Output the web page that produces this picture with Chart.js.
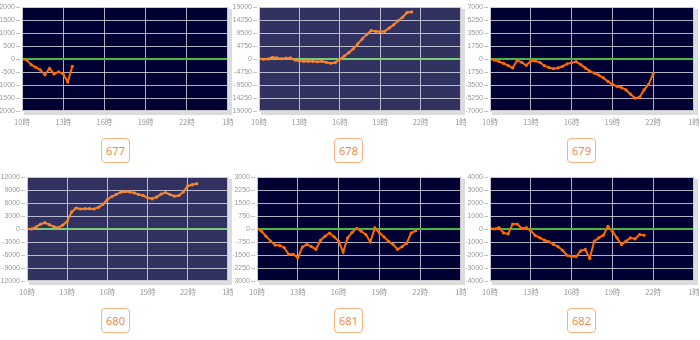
<!DOCTYPE html>
<html>
<head>
<meta charset="utf-8">
<script src="https://cdn.jsdelivr.net/npm/chart.js@4.4.0/dist/chart.umd.min.js"></script>
<style>
  html, body { margin: 0; padding: 0; background: #fff; }
  body { width: 700px; height: 340px; position: relative; overflow: hidden; font-family: "Noto Sans", sans-serif; }
  .cell { position: absolute; width: 233px; height: 170px; }
  .cell canvas { position: absolute; left: 0; top: 0; }
  .machine {
    position: absolute; left: 101px; top: 138px; width: 27px; height: 23px;
    border: 1px solid #f7b27f; border-radius: 4px; box-sizing: content-box;
    color: #f28a48; font-size: 11px; line-height: 23px; text-align: center;
  }
</style>
</head>
<body>
<script>
// hour ticks every 3 hours across the 10:00 - 1:00 range (20-minute slots)
const hourLabels = ['10時', '13時', '16時', '19時', '22時', '1時'];
const slotsPerTick = 9;
const lastSlot = 45;

const machines = ['677', '678', '679', '680', '681', '682'];
const yLimits = [2000, 19000, 7000, 12000, 3000, 4000];

// cumulative balance per 20-minute slot from 10:00
const diff677 = [0, -40, -220, -320, -420, -610, -360, -575, -490, -575, -880, -280];
const diff678 = [200, -100, 0, 600, 400, 100, 300, 400, -350, -700, -850, -850, -850, -1000, -850,
  -1200, -1550, -1300, -100, 1100, 2300, 3700, 5500, 7350, 9000, 10400, 10100, 10000, 10100,
  11300, 12500, 14000, 15300, 17000, 17200];
const diff679 = [0, -150, -350, -600, -880, -1200, -180, -450, -850, -270, -270, -450, -900, -1150,
  -1300, -1200, -980, -660, -490, -350, -750, -1200, -1640, -1900, -2170, -2530, -3010, -3400,
  -3680, -3850, -4160, -4740, -5270, -5140, -4160, -3410, -1950];
const diff680 = [0, 0, 450, 1100, 1450, 1000, 530, 300, 900, 1750, 3950, 4850, 4620, 4700, 4700,
  4620, 5000, 5700, 6800, 7500, 8000, 8500, 8640, 8560, 8340, 7960, 7730, 7200, 6970, 7350, 8040,
  8400, 7960, 7580, 7730, 8560, 9930, 10230, 10460];
const diff681 = [40, -130, -420, -700, -930, -950, -1080, -1460, -1460, -1650, -1040, -890, -1020,
  -1170, -660, -420, -230, -450, -700, -1330, -510, -190, 40, -130, -320, -740, 60, -230, -450,
  -700, -890, -1170, -1020, -830, -230, -100];
const diff682 = [50, 0, 100, -300, -380, 380, 380, 50, 100, -130, -500, -680, -860, -980, -1190,
  -1360, -1640, -2020, -2120, -2120, -1690, -1570, -2250, -930, -680, -480, 200, -180, -680,
  -1190, -930, -680, -760, -430, -480];

const series = [diff677, diff678, diff679, diff680, diff681, diff682];

// two panel themes: deep navy and slate
const themes = {
  navy:  { bg: '#000033', line: '#ff6a00', zero: '#45b845' },
  slate: { bg: '#323261', line: '#f7862f', zero: '#7acc74' }
};
const panelTheme = ['navy', 'slate', 'navy', 'slate', 'navy', 'navy'];
const axisWidth = [22, 26, 24, 27, 24, 24];

const gridColor = 'rgba(225, 225, 238, 0.78)';

const panelFrame = {
  id: 'panelFrame',
  beforeDraw(chart, args, opts) {
    const { ctx, chartArea: a } = chart;
    ctx.save();
    ctx.fillStyle = '#dcdcdc';
    ctx.fillRect(a.left + 2, a.top + 2, a.right - a.left + 2, a.bottom - a.top + 2);
    ctx.fillStyle = opts.bg;
    ctx.fillRect(a.left, a.top, a.right - a.left, a.bottom - a.top);
    // small tick dashes left of the plot, detached from it
    const y = chart.scales.y;
    ctx.strokeStyle = '#c4c4c4';
    ctx.lineWidth = 1;
    y.ticks.forEach(t => {
      const py = Math.round(y.getPixelForValue(t.value)) + 0.5;
      ctx.beginPath();
      ctx.moveTo(a.left - 6, py);
      ctx.lineTo(a.left - 2, py);
      ctx.stroke();
    });
    ctx.restore();
  },
  afterDatasetsDraw(chart) {
    const { ctx, chartArea: a } = chart;
    ctx.save();
    ctx.strokeStyle = '#c8c8cc';
    ctx.lineWidth = 1;
    ctx.strokeRect(a.left + 0.5, a.top + 0.5, a.right - a.left - 1, a.bottom - a.top - 1);
    ctx.restore();
  }
};

machines.forEach((name, k) => {
  const col = k % 3, row = Math.floor(k / 3);
  const cell = document.createElement('div');
  cell.className = 'cell';
  cell.style.left = (col * 233) + 'px';
  cell.style.top = (row * 170) + 'px';
  const canvas = document.createElement('canvas');
  canvas.width = 233;
  canvas.height = 132;
  cell.appendChild(canvas);
  const tag = document.createElement('div');
  tag.className = 'machine';
  tag.textContent = name;
  cell.appendChild(tag);
  document.body.appendChild(cell);

  const theme = themes[panelTheme[k]];
  const max = yLimits[k];

  new Chart(canvas, {
    type: 'line',
    data: {
      datasets: [{
        data: series[k].map((v, i) => ({ x: i, y: v })),
        borderColor: theme.line,
        backgroundColor: theme.line,
        borderWidth: 2,
        pointRadius: 1.6,
        pointBorderWidth: 0,
        tension: 0
      }]
    },
    options: {
      responsive: false,
      animation: false,
      devicePixelRatio: 1,
      layout: { padding: { top: 7, right: 5, left: 0, bottom: 0 } },
      plugins: {
        legend: { display: false },
        tooltip: { enabled: false },
        panelFrame: { bg: theme.bg }
      },
      scales: {
        x: {
          type: 'linear',
          min: 0,
          max: lastSlot,
          border: { display: false },
          grid: { color: gridColor, drawTicks: false },
          ticks: {
            stepSize: slotsPerTick,
            autoSkip: false,
            maxRotation: 0,
            padding: 7,
            color: '#999',
            font: { size: 7.5, family: '"Noto Sans CJK JP", "Noto Sans", sans-serif' },
            callback: v => hourLabels[v / slotsPerTick]
          },
          afterFit(scale) {
            scale.height = 21;
            scale.paddingLeft = 0;
            scale.paddingRight = 0;
          }
        },
        y: {
          min: -max,
          max: max,
          border: { display: false },
          grid: {
            drawTicks: false,
            color: c => c.tick && c.tick.value === 0 ? theme.zero : gridColor,
            lineWidth: c => c.tick && c.tick.value === 0 ? 2 : 1
          },
          ticks: {
            stepSize: max / 4,
            padding: 7,
            color: '#999',
            font: { size: 7, family: '"Liberation Sans", sans-serif' },
            callback: v => String(v)
          },
          afterFit(scale) {
            scale.width = axisWidth[k];
            scale.paddingTop = 0;
            scale.paddingBottom = 0;
          }
        }
      }
    },
    plugins: [panelFrame]
  });
});
</script>
</body>
</html>
